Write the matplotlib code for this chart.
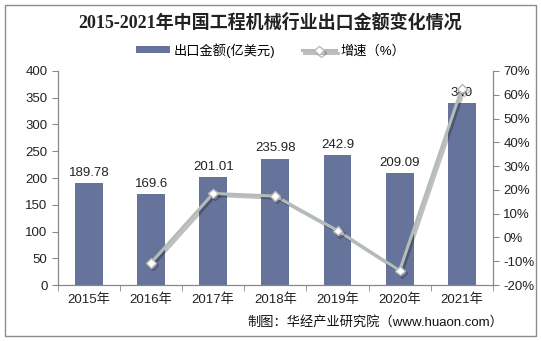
import matplotlib
matplotlib.use("Agg")
import matplotlib.pyplot as plt
import matplotlib.patheffects as pe
from matplotlib.patches import Rectangle
from matplotlib.ticker import FixedLocator, NullFormatter

plt.rcParams['font.family'] = ['Liberation Sans', 'Noto Sans CJK SC', 'DejaVu Sans']

years = ['2015年', '2016年', '2017年', '2018年', '2019年', '2020年', '2021年']
export_values = [189.78, 169.6, 201.01, 235.98, 242.9, 209.09, 340]
export_labels = ['189.78', '169.6', '201.01', '235.98', '242.9', '209.09', '340']
growth_years = ['2016年', '2017年', '2018年', '2019年', '2020年', '2021年']
growth_values = [-10.6, 18.5, 17.4, 2.9, -13.9, 62.6]

bar_color = '#66739a'
line_color = '#b4bcb9'
axis_color = '#888888'
text_color = '#222222'

fig = plt.figure(figsize=(5.41, 3.41), dpi=100)
fig.patches.append(Rectangle((0.009, 0.015), 0.982, 0.97, transform=fig.transFigure,
                             fill=False, edgecolor='#8c8c8c', linewidth=1.0))

ax = fig.add_axes([0.107, 0.164, 0.804, 0.628])
x = list(range(len(years)))
bars = ax.bar(x, export_values, width=0.45, color=bar_color, label='出口金额(亿美元)', zorder=2)
for xi, v, lab in zip(x, export_values, export_labels):
    ax.text(xi, v + 8, lab, ha='center', va='bottom', fontsize=9.5, color=text_color)

ax.set_xlim(-0.5, len(years) - 0.5)
ax.set_ylim(0, 400)
ax.set_yticks(range(0, 401, 50))
ax.set_xticks(x)
ax.set_xticklabels(years, fontsize=9.5, color=text_color)
ax.tick_params(axis='x', length=0, pad=6)
ax.xaxis.set_minor_locator(FixedLocator([i + 0.5 for i in range(-1, len(years))]))
ax.xaxis.set_minor_formatter(NullFormatter())
ax.tick_params(axis='x', which='minor', length=4, color=axis_color, direction='out')
ax.tick_params(axis='y', length=4, color=axis_color, labelsize=9.5, labelcolor=text_color)
ax.spines['top'].set_visible(False)
for s in ['left', 'bottom', 'right']:
    ax.spines[s].set_color(axis_color)

ax2 = ax.twinx()
gx = [years.index(y) for y in growth_years]
line, = ax2.plot(gx, growth_values, color=line_color, linewidth=2.2, marker='D', markersize=5,
                 markerfacecolor='white', markeredgecolor=line_color, markeredgewidth=1,
                 label='增速（%）', zorder=3,
                 path_effects=[pe.SimpleLineShadow(offset=(1.5, -1.5), alpha=0.25), pe.Normal()])
ax2.set_ylim(-20, 70)
ax2.set_yticks(range(-20, 71, 10))
ax2.set_yticklabels([f'{v}%' for v in range(-20, 71, 10)])
ax2.tick_params(axis='y', length=4, color=axis_color, labelsize=9.5, labelcolor=text_color)
ax2.spines['top'].set_visible(False)
for s in ['left', 'bottom', 'right']:
    ax2.spines[s].set_color(axis_color)

fig.text(0.5, 0.935, '2015-2021年中国工程机械行业出口金额变化情况', ha='center', va='center',
         fontsize=13, fontweight='bold', color='#222222',
         family=['Liberation Serif', 'Noto Sans CJK SC'])

fig.legend(handles=[bars, line], labels=['出口金额(亿美元)', '增速（%）'], loc='center',
           bbox_to_anchor=(0.5, 0.853), ncol=2, frameon=False, fontsize=9.5,
           handlelength=2.6, columnspacing=2.0, handletextpad=0.3, handleheight=0.4)

fig.text(0.93, 0.055, '制图：华经产业研究院（www.huaon.com）', ha='right', va='center',
         fontsize=9.5, color='#111111')

fig.savefig('out.png', dpi=100)
